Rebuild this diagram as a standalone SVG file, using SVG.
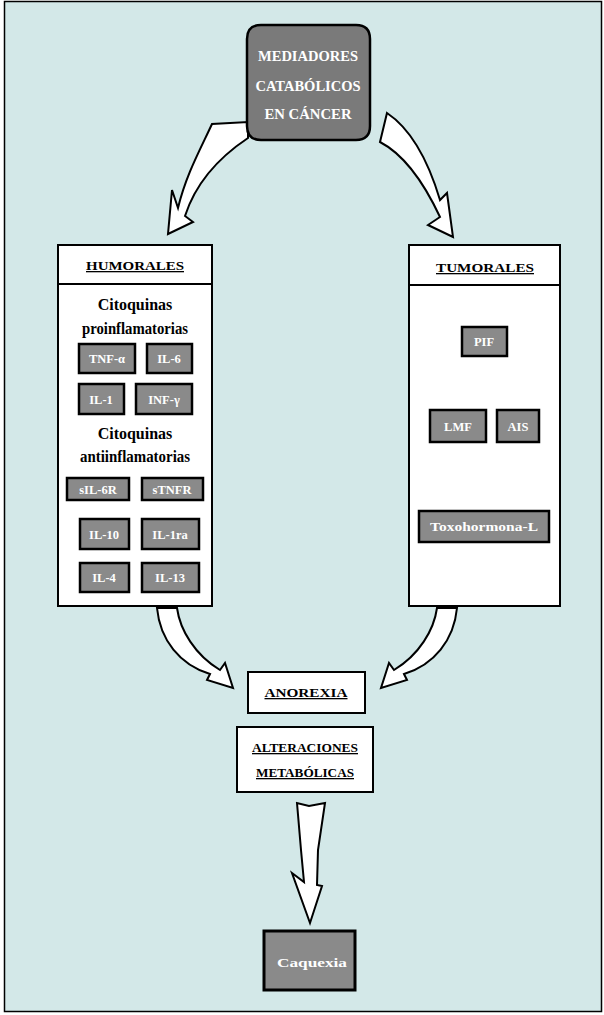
<svg xmlns="http://www.w3.org/2000/svg" width="604" height="1015" viewBox="0 0 604 1015">
<style>
.wb{fill:#fff;stroke:#000;stroke-width:2}
.gb{fill:#8a8a8a;stroke:#000;stroke-width:2.5}
.arr{fill:#fff;stroke:#000;stroke-width:2;stroke-linejoin:miter}
.t{font-family:"Liberation Serif","Times New Roman",serif;font-weight:bold;text-anchor:middle}
.h{font-size:13px;fill:#000;text-decoration:underline}
.c{font-size:16px;fill:#000}
.s{font-size:12.5px;fill:#fff}
.w{font-size:14px;fill:#fff}
</style>
<rect x="4.5" y="1.5" width="597" height="1010" fill="#d3e8e8" stroke="#000" stroke-width="1.5"/>
<g id="connectors">
<path class="arr" d="M 212,124 C 200,150 186,175 178,208 L 172,190 L 168,234 L 193,222 L 185,216 C 195,185 215,160 248,138 L 248,122 Z"/>
<path class="arr" d="M 387,113 C 405,125 425,150 440,200 L 447,193 L 453,237 L 428,225 L 440,217 C 425,185 405,155 380,142 Z"/>
<path class="arr" d="M 157,608 C 160,640 180,665 210,674 L 207,680 L 233,688 L 225,663 L 220,670 C 195,655 180,630 177,608 Z"/>
<path class="arr" transform="translate(614,0) scale(-1,1)" d="M 157,608 C 160,640 180,665 210,674 L 207,680 L 233,688 L 225,663 L 220,670 C 195,655 180,630 177,608 Z"/>
<path class="arr" d="M 297,803 L 301,850 L 304,882 L 292,873 L 310,923 L 322,886 L 317,885 L 318,850 L 325,803 L 309,806 Z"/>
</g>
<g id="mediadores">
<path d="M 261,25 L 356,25 Q 370,25 370,39 L 370,126 Q 370,140 356,140 L 261,140 Q 247,140 247,126 L 247,39 Q 247,25 261,25 Z" fill="#7a7a7a" stroke="#000" stroke-width="2.5"/>
<text class="t w" x="308" y="61" textLength="100" lengthAdjust="spacingAndGlyphs">MEDIADORES</text>
<text class="t w" x="308" y="91" textLength="105" lengthAdjust="spacingAndGlyphs">CATABÓLICOS</text>
<text class="t w" x="308" y="119" textLength="87" lengthAdjust="spacingAndGlyphs">EN CÁNCER</text>
</g>
<g id="humorales">
<rect class="wb" x="58" y="245" width="154" height="361"/>
<line x1="58" y1="284" x2="212" y2="284" stroke="#000" stroke-width="2"/>
<text class="t h" x="135" y="270" textLength="98" lengthAdjust="spacingAndGlyphs">HUMORALES</text>
<text class="t c" x="135" y="310">Citoquinas</text>
<text class="t c" x="135" y="334" textLength="106" lengthAdjust="spacingAndGlyphs">proinflamatorias</text>
<text class="t c" x="135" y="439">Citoquinas</text>
<text class="t c" x="135" y="462" textLength="110" lengthAdjust="spacingAndGlyphs">antiinflamatorias</text>
</g>
<g id="tnfa"><rect class="gb" x="79" y="344" width="56" height="29"/><text class="t s" x="107" y="363">TNF-α</text></g>
<g id="il6"><rect class="gb" x="147" y="344" width="45" height="29"/><text class="t s" x="169" y="363">IL-6</text></g>
<g id="il1"><rect class="gb" x="79" y="384" width="45" height="30"/><text class="t s" x="101" y="404">IL-1</text></g>
<g id="infg"><rect class="gb" x="136" y="384" width="56" height="30"/><text class="t s" x="164" y="404">INF-γ</text></g>
<g id="sil6r"><rect class="gb" x="67" y="478" width="62" height="22"/><text class="t s" x="98" y="494">sIL-6R</text></g>
<g id="stnfr"><rect class="gb" x="142" y="478" width="61" height="22"/><text class="t s" x="172" y="494">sTNFR</text></g>
<g id="il10"><rect class="gb" x="80" y="519" width="49" height="30"/><text class="t s" x="104" y="539">IL-10</text></g>
<g id="il1ra"><rect class="gb" x="142" y="519" width="57" height="30"/><text class="t s" x="170" y="539">IL-1ra</text></g>
<g id="il4"><rect class="gb" x="80" y="563" width="49" height="29"/><text class="t s" x="104" y="582">IL-4</text></g>
<g id="il13"><rect class="gb" x="142" y="563" width="57" height="29"/><text class="t s" x="170" y="582">IL-13</text></g>
<g id="tumorales">
<rect class="wb" x="409" y="245" width="151" height="361"/>
<line x1="409" y1="285" x2="560" y2="285" stroke="#000" stroke-width="2"/>
<text class="t h" x="485" y="272" textLength="98" lengthAdjust="spacingAndGlyphs">TUMORALES</text>
</g>
<g id="pif"><rect class="gb" x="462" y="327" width="45" height="29"/><text class="t s" x="484" y="346">PIF</text></g>
<g id="lmf"><rect class="gb" x="430" y="410" width="56" height="32"/><text class="t s" x="458" y="431">LMF</text></g>
<g id="ais"><rect class="gb" x="497" y="410" width="42" height="32"/><text class="t s" x="518" y="431">AIS</text></g>
<g id="toxohormona"><rect class="gb" x="419" y="511" width="130" height="31"/><text class="t s" x="484" y="531" textLength="108" lengthAdjust="spacingAndGlyphs">Toxohormona-L</text></g>
<g id="anorexia">
<rect class="wb" x="248" y="672" width="117" height="41"/>
<text class="t h" x="306" y="697" textLength="83" lengthAdjust="spacingAndGlyphs">ANOREXIA</text>
</g>
<g id="alteraciones">
<rect class="wb" x="237" y="727" width="136" height="65"/>
<text class="t h" x="305" y="752" textLength="106" lengthAdjust="spacingAndGlyphs">ALTERACIONES</text>
<text class="t h" x="305" y="777" textLength="98" lengthAdjust="spacingAndGlyphs">METABÓLICAS</text>
</g>
<g id="caquexia">
<rect x="264" y="931" width="91" height="59" fill="#8a8a8a" stroke="#000" stroke-width="3"/>
<text class="t" x="312" y="967" font-size="13" fill="#fff" textLength="70" lengthAdjust="spacingAndGlyphs">Caquexia</text>
</g>
</svg>
